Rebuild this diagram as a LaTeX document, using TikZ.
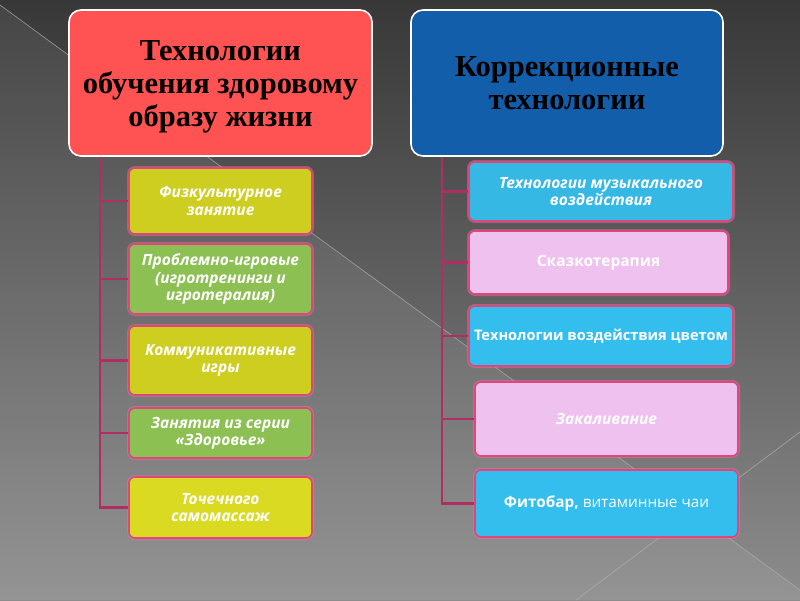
\documentclass[tikz,border=0pt]{standalone}
\usepackage{fontspec}
\setmainfont{Liberation Serif}
\newfontfamily\cgfont{Open Sans}
\definecolor{bgtop}{HTML}{383838}
\definecolor{bgbot}{HTML}{8C8C8C}
\definecolor{hred}{HTML}{FF5252}
\definecolor{hblue}{HTML}{135EAB}
\definecolor{ygreen}{HTML}{CECE20}
\definecolor{ygreenb}{HTML}{DADA22}
\definecolor{lgreen}{HTML}{8CC053}
\definecolor{cyanA}{HTML}{36B8E5}
\definecolor{cyanB}{HTML}{34BEED}
\definecolor{pinkbox}{HTML}{EFC1EF}
\definecolor{kidborder}{HTML}{E2447C}
\definecolor{kidglow}{HTML}{F27AA8}
\definecolor{conncol}{HTML}{B02E62}
\definecolor{decoline}{HTML}{B0B0B0}
\begin{document}
\begin{tikzpicture}[x=1pt,y=-1pt,
  hdr/.style={draw=white, line width=1.6pt, rounded corners=12pt, inner sep=0pt,
    align=center, text=black, font=\bfseries\fontsize{30.5}{33}\selectfont},
  kid/.style={rounded corners=6pt, draw=kidborder, line width=1.6pt,
    preaction={draw=kidglow, line width=4pt, draw opacity=0.4},
    text=white, align=center, inner sep=0pt,
    font=\cgfont\bfseries\itshape\fontsize{15.5}{17.5}\selectfont},
  kidup/.style={kid, font=\cgfont\bfseries\fontsize{15.5}{17.5}\selectfont},
  conn/.style={draw=conncol, line width=2.3pt},
  deco/.style={draw=decoline, line width=0.7pt, draw opacity=0.7}]
\useasboundingbox (0,0) rectangle (800,600);
% background
\shade[top color=bgtop, bottom color=bgbot] (0,0) rectangle (800,600);
\fill[white, fill opacity=0.07] (0,5) -- (800,590) -- (800,600) -- (0,600) -- cycle;
\draw[deco] (0,5) -- (800,590);
\draw[deco] (576,600) -- (800,432);
% headers
\node[hdr, fill=hred, minimum width=303pt, minimum height=146pt] (lh) at (220.5,83)
  {\rule{0pt}{27pt}Технологии\\обучения здоровому\\образу жизни};
\node[hdr, fill=hblue, minimum width=312pt, minimum height=146pt] (rh) at (567,83)
  {Коррекционные\\технологии};
% left children
\node[kid, fill=ygreen, minimum width=183pt, minimum height=66pt] (l1) at (220.5,201)
  {Физкультурное\\занятие};
\node[kid, fill=lgreen, minimum width=183pt, minimum height=70pt] (l2) at (220.5,279)
  {Проблемно-игровые\\(игротренинги и\\игротералия)};
\node[kid, fill=ygreen, minimum width=183pt, minimum height=69pt] (l3) at (220.5,360.5)
  {Коммуникативные\\игры};
\node[kid, fill=lgreen, minimum width=183pt, minimum height=50pt] (l4) at (220.5,433)
  {Занятия из серии\\«Здоровье»};
\node[kid, fill=ygreenb, minimum width=183pt, minimum height=61pt] (l5) at (220.5,507.5)
  {Точечного\\самомассаж};
% right children
\node[kid, fill=cyanA, minimum width=264pt, minimum height=59pt] (r1) at (601,191.5)
  {Технологии музыкального\\воздействия};
\node[kidup, fill=pinkbox, minimum width=259pt, minimum height=63pt] (r2) at (598.5,262.5)
  {Сказкотерапия};
\node[kidup, fill=cyanB, minimum width=264pt, minimum height=60pt,
  font=\cgfont\bfseries\fontsize{14.6}{17}\selectfont] (r3) at (601,336)
  {Технологии воздействия цветом};
\node[kid, fill=pinkbox, minimum width=263pt, minimum height=74pt] (r4) at (606.5,419)
  {Закаливание};
\node[kidup, fill=cyanB, minimum width=263pt, minimum height=67pt,
  font=\cgfont\bfseries\fontsize{15.3}{17}\selectfont] (r5) at (606.5,503.5)
  {Фитобар, {\mdseries витаминные чаи}};
% connectors
\coordinate (lt) at (100,507.5);
\coordinate (rt) at (442,503.5);
\draw[conn] (lh.south -| lt) -- (lt) -- (l5.west);
\foreach \n in {l1,l2,l3,l4} \draw[conn] (\n.west -| lt) -- (\n.west);
\draw[conn] (rh.south -| rt) -- (rt) -- (r5.west);
\foreach \n in {r1,r2,r3,r4} \draw[conn] (\n.west -| rt) -- (\n.west);
\end{tikzpicture}
\end{document}
